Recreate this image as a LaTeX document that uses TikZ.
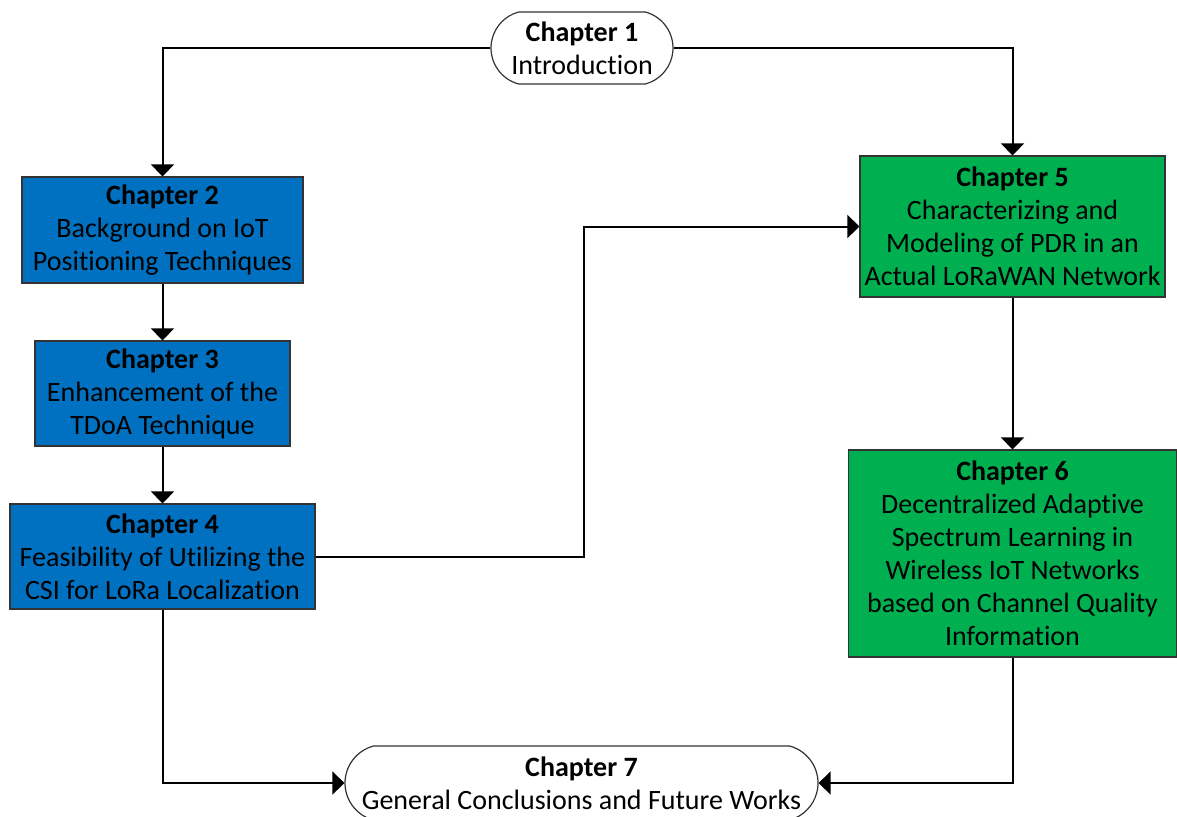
\documentclass[tikz,border=0pt]{standalone}
\usepackage{fontspec}
\setmainfont{Carlito}[Ligatures=NoCommon]
\usepackage{tikz}
\usetikzlibrary{arrows.meta}
\usetikzlibrary{positioning}
\usetikzlibrary{shapes.misc}
\definecolor{chblue}{RGB}{0,112,192}
\definecolor{chgreen}{RGB}{0,176,80}

\begin{document}
\begin{tikzpicture} [x=0.5pt,y=-0.5pt,
		chapter/.style={rectangle,draw=black!80,line width=0.6pt,align=center,inner sep=0pt,
			font=\fontsize{14}{16.5}\selectfont},
		terminal/.style={chapter,rounded rectangle,rounded rectangle arc length=150,fill=white},
		link/.style={line width=1pt,-{Triangle[length=6pt,width=11.5pt]}}]

		\useasboundingbox (0,0) rectangle (1177,816);

		% node positions
		\node[terminal,minimum width=91pt,minimum height=36pt] (ch1) at (582,48)
			{\textbf{Chapter 1}\\Introduction};
		\node[chapter,fill=chblue,minimum width=140.5pt,minimum height=53pt] (ch2) at (162.5,230)
			{\textbf{Chapter 2}\\Background on IoT\\Positioning Techniques};
		\node[chapter,fill=chblue,minimum width=127.5pt,minimum height=52.5pt] (ch3) at (162.5,393.5)
			{\textbf{Chapter 3}\\Enhancement of the\\TDoA Technique};
		\node[chapter,fill=chblue,minimum width=152.5pt,minimum height=52.5pt] (ch4) at (162.5,556.5)
			{\textbf{Chapter 4}\\Feasibility of Utilizing the\\CSI for LoRa Localization};
		\node[chapter,fill=chgreen,minimum width=152.5pt,minimum height=70.5pt] (ch5) at (1012.5,226.5)
			{\textbf{Chapter 5}\\Characterizing and\\Modeling of PDR in an\\Actual LoRaWAN Network};
		\node[chapter,fill=chgreen,minimum width=164pt,minimum height=103.5pt] (ch6) at (1012.5,553.5)
			{\textbf{Chapter 6}\\Decentralized Adaptive\\Spectrum Learning in\\Wireless IoT Networks\\based on Channel Quality\\Information};
		\node[terminal,minimum width=236.5pt,minimum height=37pt] (ch7) at (581.5,783)
			{\textbf{Chapter 7}\\General Conclusions and Future Works};

		% top branches
		\draw[link] (ch1.west) -| (ch2.north);
		\draw[link] (ch1.east) -| (ch5.north);

		% left column
		\draw[link] (ch2) -- (ch3);
		\draw[link] (ch3) -- (ch4);
		\draw[link] (ch4.east) -- ++(268,0) |- (ch5.west);

		% right column
		\draw[link] (ch5) -- (ch6);

		% to conclusions
		\draw[link] (ch4.south) |- (ch7.west);
		\draw[link] (ch6.south) |- (ch7.east);

	\end{tikzpicture}
\end{document}
